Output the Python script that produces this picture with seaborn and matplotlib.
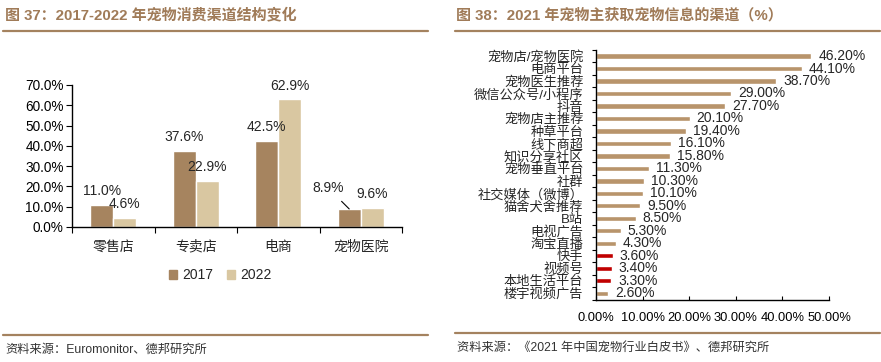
import matplotlib
matplotlib.use("Agg")
import matplotlib.pyplot as plt
import matplotlib.ticker as mticker
from matplotlib.lines import Line2D
from matplotlib.patches import Patch
import pandas as pd
import seaborn as sns

# --- datos ---
canales = ["零售店", "专卖店", "电商", "宠物医院"]
cuota_2017 = [11.0, 37.6, 42.5, 8.9]
cuota_2022 = [4.6, 22.9, 62.9, 9.6]

fuentes = ["宠物店/宠物医院", "电商平台", "宠物医生推荐", "微信公众号/小程序", "抖音",
           "宠物店主推荐", "种草平台", "线下商超", "知识分享社区", "宠物垂直平台",
           "社群", "社交媒体（微博）", "猫舍犬舍推荐", "B站", "电视广告",
           "淘宝直播", "快手", "视频号", "本地生活平台", "楼宇视频广告"]
porcentajes = [46.2, 44.1, 38.7, 29.0, 27.7, 20.1, 19.4, 16.1, 15.8, 11.3,
               10.3, 10.1, 9.5, 8.5, 5.3, 4.3, 3.6, 3.4, 3.3, 2.6]
destacados = ["快手", "视频号", "本地生活平台"]

# --- colores ---
C2017 = "#A6845F"
C2022 = "#D9C7A1"
CBAR = "#B8946B"
CROJO = "#C00000"
CTITULO = "#A07B58"
CLINEA = "#A4825F"

sns.set_theme(style="white")
plt.rcParams["font.family"] = ["Liberation Sans", "Noto Sans CJK SC", "DejaVu Sans"]
plt.rcParams["axes.unicode_minus"] = False

W, H = 881, 362
fig = plt.figure(figsize=(W / 100, H / 100), dpi=100)
fig.patch.set_facecolor("white")


def caja(x0, y0, x1, y1):
    # caja en pixeles (origen arriba-izquierda) -> rect de figura
    return [x0 / W, 1 - y1 / H, (x1 - x0) / W, (y1 - y0) / H]


def linea(x0, x1, y, lw=1.6):
    fig.add_artist(Line2D([x0 / W, x1 / W], [1 - y / H, 1 - y / H],
                          transform=fig.transFigure, color=CLINEA, lw=lw))


# ===============================
# Títulos, líneas y fuentes
# ===============================
fig.text(5 / W, 1 - 15 / H, "图 37：2017-2022 年宠物消费渠道结构变化",
         fontsize=10.8, fontweight="bold", color=CTITULO, va="center", ha="left")
fig.text(456 / W, 1 - 15 / H, "图 38：2021 年宠物主获取宠物信息的渠道（%）",
         fontsize=10.8, fontweight="bold", color=CTITULO, va="center", ha="left")
linea(3, 428, 30.5)
linea(455, 880, 30.5)
linea(3, 428, 335)
linea(455, 880, 333)
fig.text(5 / W, 1 - 350 / H, "资料来源：Euromonitor、德邦研究所",
         fontsize=8.8, color="#333333", va="center", ha="left")
fig.text(457 / W, 1 - 348 / H, "资料来源：《2021 年中国宠物行业白皮书》、德邦研究所",
         fontsize=8.8, color="#333333", va="center", ha="left")

# ===============================
# Gráfico izquierdo: barras agrupadas
# ===============================
ax1 = fig.add_axes(caja(72, 85, 402, 227))
df1 = pd.DataFrame({
    "canal": canales * 2,
    "cuota": cuota_2017 + cuota_2022,
    "anio": ["2017"] * len(canales) + ["2022"] * len(canales),
})
sns.barplot(data=df1, x="canal", y="cuota", hue="anio", palette=[C2017, C2022],
            width=0.56, gap=0, ax=ax1, legend=False, saturation=1)
ax1.set_ylim(0, 70)
ax1.set_xlim(-0.5, len(canales) - 0.5)
ax1.yaxis.set_major_locator(mticker.MultipleLocator(10))
ax1.yaxis.set_major_formatter(mticker.FormatStrFormatter("%.1f%%"))
ax1.set_xlabel("")
ax1.set_ylabel("")
for s in ["top", "right"]:
    ax1.spines[s].set_visible(False)
for s in ["left", "bottom"]:
    ax1.spines[s].set_color("black")
    ax1.spines[s].set_linewidth(1.0)
ax1.tick_params(axis="y", length=4, width=0.8, direction="out", colors="black",
                labelsize=9.8, pad=2, left=True)
ax1.tick_params(axis="x", which="major", length=0, labelsize=10, pad=9)
ax1.set_xticks([i - 0.5 for i in range(len(canales) + 1)], minor=True)
ax1.tick_params(axis="x", which="minor", length=4, width=0.8, direction="out",
                bottom=True, color="black")

for cont in ax1.containers:
    for barra in cont:
        v = barra.get_height()
        cx = barra.get_x() + barra.get_width() / 2
        if abs(v - 8.9) < 1e-6:
            ax1.annotate(f"{v:.1f}%", xy=(cx, v), xytext=(-15, 15),
                         textcoords="offset points", ha="center", va="center",
                         fontsize=10,
                         arrowprops=dict(arrowstyle="-", color="black", lw=0.8,
                                         shrinkA=3, shrinkB=0))
        else:
            ax1.annotate(f"{v:.1f}%", xy=(cx, v), xytext=(0, 10),
                         textcoords="offset points", ha="center", va="center",
                         fontsize=10)

fig.legend(handles=[Patch(color=C2017), Patch(color=C2022)], labels=["2017", "2022"],
           loc="center", bbox_to_anchor=(220 / W, 1 - 275 / H), ncol=2,
           frameon=False, fontsize=10, handlelength=0.6, handleheight=0.6,
           handletextpad=0.35, columnspacing=1.0)

# ===============================
# Gráfico derecho: barras horizontales
# ===============================
ax2 = fig.add_axes(caja(596, 49.8, 829, 299.5))
colores = [CROJO if f in destacados else CBAR for f in fuentes]
sns.barplot(x=porcentajes, y=fuentes, hue=fuentes, palette=colores, orient="h",
            width=0.42, ax=ax2, legend=False, saturation=1)
ax2.set_xlim(0, 50)
ax2.xaxis.set_major_locator(mticker.MultipleLocator(10))
ax2.xaxis.set_major_formatter(mticker.FormatStrFormatter("%.2f%%"))
for s in ["top", "right"]:
    ax2.spines[s].set_visible(False)
for s in ["left", "bottom"]:
    ax2.spines[s].set_color("black")
    ax2.spines[s].set_linewidth(1.0)
ax2.tick_params(axis="x", length=3, width=0.8, direction="in", colors="black",
                labelsize=9.3, pad=9, bottom=True)
ax2.tick_params(axis="y", which="major", length=0, labelsize=9.5, pad=9)
ax2.set_yticks([i - 0.5 for i in range(len(fuentes) + 1)], minor=True)
ax2.tick_params(axis="y", which="minor", length=3, width=0.8, direction="out",
                left=True, color="black")
for cont in ax2.containers:
    ax2.bar_label(cont, fmt="%.2f%%", padding=5, fontsize=10)

fig.savefig("out.png", dpi=100, facecolor="white")
